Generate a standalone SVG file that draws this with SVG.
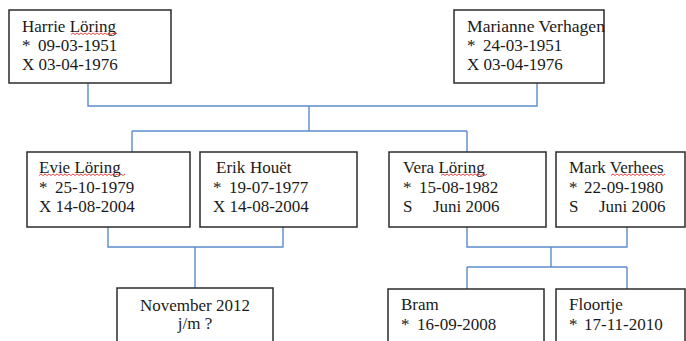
<svg xmlns="http://www.w3.org/2000/svg" width="686" height="341" viewBox="0 0 686 341">
<style>
.box{fill:#fff;stroke:#2b2b2b;stroke-width:1.5}
.t{font-family:"Liberation Serif","Times New Roman",serif;font-size:17px;fill:#1a1a1a}
.c{fill:none;stroke:#5b8ccc;stroke-width:1.4}
.sq{fill:none;stroke:#e03030;stroke-width:0.9}
</style>
<rect width="686" height="341" fill="#fff"/>
<g id="connectors">
<path class="c" d="M88 83V106H537V83"/>
<path class="c" d="M309 106V131"/>
<path class="c" d="M132 131H467"/>
<path class="c" d="M132 131V152"/>
<path class="c" d="M467 131V152"/>
<path class="c" d="M108 227V247H283V227"/>
<path class="c" d="M195 247V288"/>
<path class="c" d="M467 227V247H627V227"/>
<path class="c" d="M551 247V267"/>
<path class="c" d="M467 267H627"/>
<path class="c" d="M467 267V289"/>
<path class="c" d="M627 267V289"/>
</g>
<g id="harrie">
<rect class="box" x="9" y="10" width="162" height="73"/>
<text class="t" x="22" y="32">Harrie Löring</text>
<text class="t" x="22" y="51">*<tspan x="38">09-03-1951</tspan></text>
<text class="t" x="22" y="70">X 03-04-1976</text>
<path class="sq" d="M71 34.5l2 -1.5 2 1.5 2 -1.5 2 1.5 2 -1.5 2 1.5 2 -1.5 2 1.5 2 -1.5 2 1.5 2 -1.5 2 1.5 2 -1.5 2 1.5 2 -1.5 2 1.5 2 -1.5 2 1.5 2 -1.5 2 1.5 2 -1.5 2 1.5 2 -1.5"/>
</g>
<g id="marianne">
<rect class="box" x="454" y="10" width="150" height="73"/>
<text class="t" x="467" y="32" textLength="138" lengthAdjust="spacingAndGlyphs">Marianne Verhagen</text>
<text class="t" x="467" y="51">*<tspan x="483">24-03-1951</tspan></text>
<text class="t" x="467" y="70">X 03-04-1976</text>
</g>
<g id="evie">
<rect class="box" x="27" y="152" width="163" height="75"/>
<text class="t" x="39" y="173">Evie Löring</text>
<text class="t" x="39" y="193">*<tspan x="55">25-10-1979</tspan></text>
<text class="t" x="39" y="212">X 14-08-2004</text>
<path class="sq" d="M39 175.5l2 -1.5 2 1.5 2 -1.5 2 1.5 2 -1.5 2 1.5 2 -1.5 2 1.5 2 -1.5 2 1.5 2 -1.5 2 1.5 2 -1.5 2 1.5 2 -1.5 2 1.5 2 -1.5 2 1.5 2 -1.5 2 1.5 2 -1.5 2 1.5 2 -1.5 2 1.5 2 -1.5 2 1.5 2 -1.5 2 1.5 2 -1.5 2 1.5 2 -1.5 2 1.5 2 -1.5 2 1.5 2 -1.5 2 1.5 2 -1.5 2 1.5 2 -1.5 2 1.5 2 -1.5 2 1.5 2 -1.5"/>
</g>
<g id="erik">
<rect class="box" x="200" y="152" width="157" height="75"/>
<text class="t" x="216" y="173">Erik<tspan x="250">Houët</tspan></text>
<text class="t" x="213" y="193">*<tspan x="229">19-07-1977</tspan></text>
<text class="t" x="213" y="212">X 14-08-2004</text>
</g>
<g id="vera">
<rect class="box" x="389" y="152" width="157" height="75"/>
<text class="t" x="403" y="173">Vera Löring</text>
<text class="t" x="403" y="193">*<tspan x="419">15-08-1982</tspan></text>
<text class="t" x="403" y="212">S<tspan x="433">Juni 2006</tspan></text>
<path class="sq" d="M441 175.5l2 -1.5 2 1.5 2 -1.5 2 1.5 2 -1.5 2 1.5 2 -1.5 2 1.5 2 -1.5 2 1.5 2 -1.5 2 1.5 2 -1.5 2 1.5 2 -1.5 2 1.5 2 -1.5 2 1.5 2 -1.5 2 1.5 2 -1.5 2 1.5 2 -1.5"/>
</g>
<g id="mark">
<rect class="box" x="556" y="152" width="129" height="75"/>
<text class="t" x="569" y="173">Mark Verhees</text>
<text class="t" x="569" y="193">*<tspan x="584">22-09-1980</tspan></text>
<text class="t" x="569" y="212">S<tspan x="599">Juni 2006</tspan></text>
<path class="sq" d="M611 175.5l2 -1.5 2 1.5 2 -1.5 2 1.5 2 -1.5 2 1.5 2 -1.5 2 1.5 2 -1.5 2 1.5 2 -1.5 2 1.5 2 -1.5 2 1.5 2 -1.5 2 1.5 2 -1.5 2 1.5 2 -1.5 2 1.5 2 -1.5 2 1.5 2 -1.5 2 1.5 2 -1.5 2 1.5 2 -1.5"/>
</g>
<g id="november">
<rect class="box" x="117" y="288" width="156" height="60"/>
<text class="t" x="195" y="311" text-anchor="middle">November 2012</text>
<text class="t" x="195" y="329" text-anchor="middle">j/m ?</text>
</g>
<g id="bram">
<rect class="box" x="388" y="289" width="156" height="60"/>
<text class="t" x="401" y="310">Bram</text>
<text class="t" x="401" y="330">*<tspan x="417">16-09-2008</tspan></text>
</g>
<g id="floortje">
<rect class="box" x="556" y="289" width="129" height="60"/>
<text class="t" x="569" y="310">Floortje</text>
<text class="t" x="569" y="330">*<tspan x="584">17-11-2010</tspan></text>
</g>
</svg>
